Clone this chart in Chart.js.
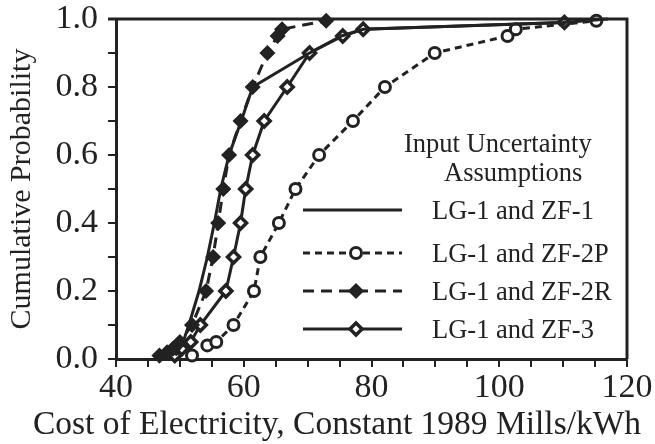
<!DOCTYPE html>
<html>
<head>
<meta charset="utf-8">
<script src="https://cdn.jsdelivr.net/npm/chart.js@4.4.0/dist/chart.umd.min.js"></script>
<style>
  html, body { margin: 0; padding: 0; background: #fff; }
</style>
</head>
<body>
<canvas id="cdf" width="655" height="444"></canvas>
<script>
// values (cost in mills/kWh, cumulative probability)
const zf1Cost = [49.3, 50.5, 51.4, 53.0, 54.3, 55.4, 56.4, 57.7, 59.6, 61.4, 70.3, 75.3, 78.7, 110.0, 117.0];
const zf1Prob = [0.01, 0.05, 0.1, 0.2, 0.3, 0.4, 0.5, 0.6, 0.7, 0.8, 0.9, 0.95, 0.97, 0.99, 1.0];

const zf2pCost = [51.9, 54.3, 55.7, 58.4, 61.6, 62.6, 65.5, 68.1, 71.8, 77.1, 82.1, 89.9, 101.3, 102.6, 115.2];
const zf2pProb = [0.01, 0.04, 0.05, 0.1, 0.2, 0.3, 0.4, 0.5, 0.6, 0.7, 0.8, 0.9, 0.95, 0.97, 0.995];

const zf2rCost = [46.8, 48.0, 48.9, 50.0, 51.9, 54.1, 55.2, 56.0, 56.8, 57.7, 59.5, 61.4, 63.7, 65.3, 66.0, 72.9];
const zf2rProb = [0.01, 0.02, 0.03, 0.05, 0.1, 0.2, 0.3, 0.4, 0.5, 0.6, 0.7, 0.8, 0.9, 0.95, 0.97, 0.995];

const zf3Cost = [49.2, 50.3, 51.7, 53.2, 57.2, 58.4, 59.5, 60.3, 61.4, 63.2, 66.8, 70.3, 75.5, 78.7, 110.2];
const zf3Prob = [0.01, 0.03, 0.05, 0.1, 0.2, 0.3, 0.4, 0.5, 0.6, 0.7, 0.8, 0.9, 0.95, 0.97, 0.99];

const seriesNames = ['LG-1 and ZF-1', 'LG-1 and ZF-2P', 'LG-1 and ZF-2R', 'LG-1 and ZF-3'];
const legendTitle = ['Input Uncertainty', 'Assumptions'];
const xTitle = 'Cost of Electricity, Constant 1989 Mills/kWh';
const yTitle = 'Cumulative Probability';

const ink = '#222';
const serif = "'Liberation Serif', 'Times New Roman', serif";

function pts(xs, ys) {
  return xs.map((v, i) => ({ x: v, y: ys[i] }));
}

function marker(ctx, style, x, y, r, fill, lw) {
  ctx.save();
  ctx.beginPath();
  if (style === 'circle') {
    ctx.arc(x, y, r, 0, Math.PI * 2);
  } else {
    ctx.moveTo(x, y - r);
    ctx.lineTo(x + r, y);
    ctx.lineTo(x, y + r);
    ctx.lineTo(x - r, y);
    ctx.closePath();
  }
  ctx.fillStyle = fill;
  ctx.fill();
  ctx.lineWidth = lw;
  ctx.strokeStyle = ink;
  ctx.stroke();
  ctx.restore();
}

const frameAndLegend = {
  id: 'frameAndLegend',
  afterDraw(chart) {
    const ctx = chart.ctx;
    const a = chart.chartArea;
    ctx.save();
    // top and right side of the box
    ctx.strokeStyle = ink;
    ctx.lineWidth = 3;
    ctx.beginPath();
    ctx.moveTo(a.left - 8, a.top);
    ctx.lineTo(a.right, a.top);
    ctx.lineTo(a.right, a.bottom);
    ctx.stroke();

    ctx.fillStyle = ink;
    ctx.textBaseline = 'middle';
    ctx.textAlign = 'left';
    ctx.font = '26.5px ' + serif;
    ctx.fillText(legendTitle[0], 404, 145);
    ctx.fillText(legendTitle[1], 444, 174);

    const rows = [211, 254, 292, 330];
    chart.data.datasets.forEach((ds, i) => {
      const y = rows[i];
      ctx.save();
      ctx.strokeStyle = ink;
      ctx.lineWidth = ds.borderWidth;
      ctx.setLineDash(ds.borderDash || []);
      ctx.beginPath();
      ctx.moveTo(303, y - 1);
      ctx.lineTo(402, y - 1);
      ctx.stroke();
      ctx.restore();
      if (ds.pointRadius > 0) {
        marker(ctx, ds.pointStyle === 'circle' ? 'circle' : 'diamond', 356, y - 1,
               ds.pointRadius, ds.pointBackgroundColor, ds.pointBorderWidth);
      }
      ctx.fillStyle = ink;
      ctx.font = '26.5px ' + serif;
      ctx.fillText(ds.label, 432, y + 1);
    });

    ctx.textAlign = 'center';
    ctx.font = '33.5px ' + serif;
    ctx.fillText(xTitle, 337, 425);
    ctx.restore();
  }
};

const data = {
  datasets: [
    {
      label: seriesNames[0],
      data: pts(zf1Cost, zf1Prob),
      borderColor: ink,
      borderWidth: 3,
      pointRadius: 0
    },
    {
      label: seriesNames[1],
      data: pts(zf2pCost, zf2pProb),
      borderColor: ink,
      borderWidth: 3,
      borderDash: [7, 5],
      pointStyle: 'circle',
      pointRadius: 5.5,
      pointBorderWidth: 3,
      pointBorderColor: ink,
      pointBackgroundColor: '#fff'
    },
    {
      label: seriesNames[2],
      data: pts(zf2rCost, zf2rProb),
      borderColor: ink,
      borderWidth: 3,
      borderDash: [11, 7],
      pointStyle: 'rectRot',
      pointRadius: 7,
      pointBorderWidth: 1.5,
      pointBorderColor: ink,
      pointBackgroundColor: ink
    },
    {
      label: seriesNames[3],
      data: pts(zf3Cost, zf3Prob),
      borderColor: ink,
      borderWidth: 3,
      pointStyle: 'rectRot',
      pointRadius: 6,
      pointBorderWidth: 3.5,
      pointBorderColor: ink,
      pointBackgroundColor: '#fff'
    }
  ]
};

const config = {
  type: 'line',
  data: data,
  options: {
    responsive: false,
    animation: false,
    devicePixelRatio: 1,
    layout: { padding: { top: 19, right: 28, left: 0, bottom: 0 } },
    elements: { line: { tension: 0 } },
    datasets: { line: { clip: false } },
    plugins: {
      legend: { display: false },
      tooltip: { enabled: false }
    },
    scales: {
      x: {
        type: 'linear',
        min: 40,
        max: 120,
        afterFit: (s) => { s.height = 85; },
        border: { color: ink, width: 3 },
        grid: { drawOnChartArea: false, color: ink, lineWidth: 2, tickLength: 8 },
        ticks: {
          stepSize: 5,
          autoSkip: false,
          maxRotation: 0,
          padding: 1,
          color: ink,
          font: { family: serif, size: 34 },
          callback: (v) => (v % 20 === 0 ? String(v) : '')
        }
      },
      y: {
        min: 0,
        max: 1,
        afterFit: (s) => { s.width = 116; s.paddingTop = 0; s.paddingBottom = 0; },
        border: { color: ink, width: 3 },
        grid: { drawOnChartArea: false, color: ink, lineWidth: 2, tickLength: 8 },
        ticks: {
          stepSize: 0.1,
          autoSkip: false,
          padding: 10,
          color: ink,
          font: { family: serif, size: 34, lineHeight: 0.8 },
          callback: (v) => (Math.round(v * 10) % 2 === 0 ? v.toFixed(1) : '')
        },
        title: {
          display: true,
          text: yTitle,
          color: ink,
          padding: { top: 4, bottom: 0 },
          font: { family: serif, size: 30 }
        }
      }
    }
  },
  plugins: [frameAndLegend]
};

new Chart(document.getElementById('cdf').getContext('2d'), config);
</script>
</body>
</html>
